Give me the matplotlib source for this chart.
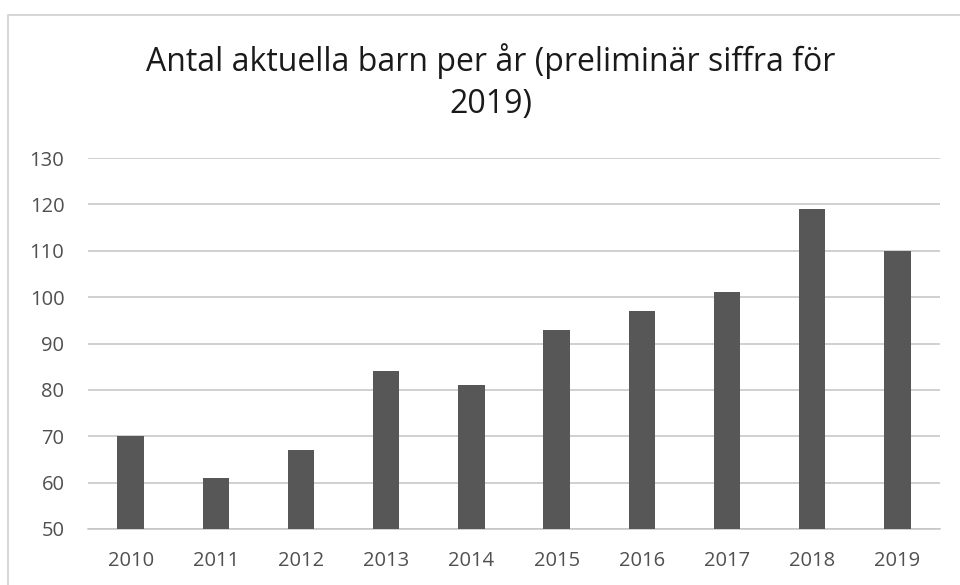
import matplotlib.pyplot as plt
from matplotlib.patches import Rectangle

years = ["2010", "2011", "2012", "2013", "2014", "2015", "2016", "2017", "2018", "2019"]
barn = [70, 61, 67, 84, 81, 93, 97, 101, 119, 110]
yticks = [50, 60, 70, 80, 90, 100, 110, 120, 130]

plt.rcParams["font.family"] = ["Open Sans", "DejaVu Sans"]

fig = plt.figure(figsize=(9.6, 5.85), dpi=100)
ax = fig.add_axes([88 / 960, 1 - 529 / 585, (940 - 88) / 960, (529 - 158) / 585])

# chart frame (only the left and top edges are visible in the scan)
fig.patches.append(Rectangle((8 / 960, -0.1), 1.1, 1 - 15 / 585 + 0.1,
                             transform=fig.transFigure, fill=False,
                             edgecolor="#cfcfcf", linewidth=1.2))

x = list(range(len(years)))
ax.bar(x, [v - 50 for v in barn], bottom=50, width=0.31, color="#575757", zorder=3)

ax.set_xlim(-0.5, len(years) - 0.5)
ax.set_ylim(50, 130)
ax.set_yticks(yticks)
ax.set_yticklabels([str(t) for t in yticks])
ax.set_xticks(x)
ax.set_xticklabels(years)
ax.tick_params(axis="both", length=0, labelsize=14.5, colors="#505050")
ax.tick_params(axis="x", pad=16)
ax.tick_params(axis="y", pad=17)
ax.grid(axis="y", color="#c4c4c4", linewidth=1.1, zorder=0)
ax.set_axisbelow(True)
for s in ("top", "right", "left"):
    ax.spines[s].set_visible(False)
ax.spines["bottom"].set_color("#c4c4c4")
ax.spines["bottom"].set_linewidth(1.1)

fig.text(491 / 960, 1 - 61 / 585, "Antal aktuella barn per år (preliminär siffra för",
         ha="center", va="center", fontsize=23, color="#1a1a1a")
fig.text(491 / 960, 1 - 104 / 585, "2019)", ha="center", va="center",
         fontsize=23, color="#1a1a1a")

fig.savefig("out.png", dpi=100)
